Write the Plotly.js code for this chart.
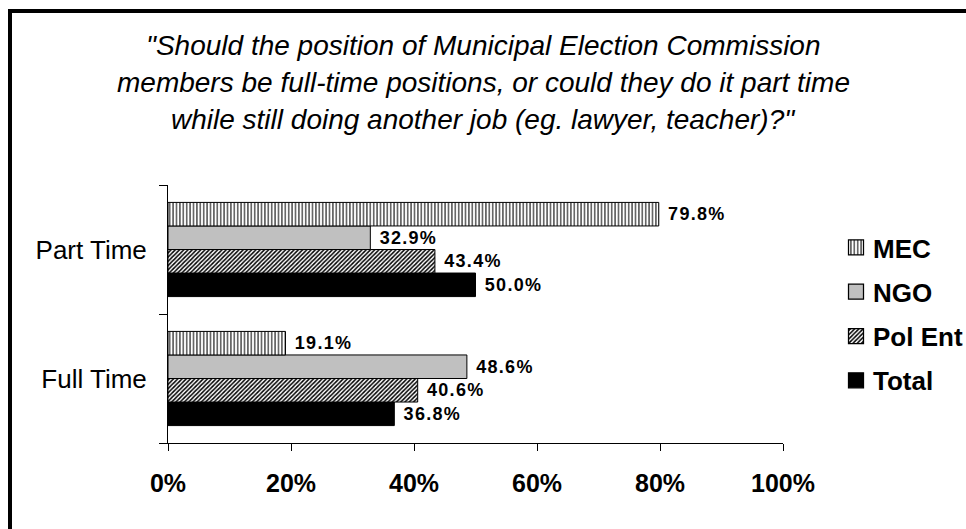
<!DOCTYPE html>
<html>
<head>
<meta charset="utf-8">
<script src="https://cdn.plot.ly/plotly-3.0.1.min.js"></script>
<style>
  html, body { margin: 0; padding: 0; width: 966px; height: 529px; overflow: hidden; background: #fff; }
  #chart { position: absolute; left: 0; top: 0; width: 966px; height: 529px; }
  #frame { position: absolute; left: 8px; top: 9px; width: 1200px; height: 800px;
           border-left: 4px solid #000; border-top: 4px solid #000; pointer-events: none; }
  text.bartext { letter-spacing: 1.3px; }
  .legend .legendpoints path.legendundefined, .legend .legendpoints path { transform: translate(23px, 0px) scale(1.25); }
</style>
</head>
<body>
<div id="chart"></div>
<div id="frame"></div>
<script>
// ---- data ----
const categories = ['Full Time', 'Part Time'];
const seriesNames = ['MEC', 'NGO', 'Pol Ent', 'Total'];
const mec    = [19.1, 79.8];
const ngo    = [48.6, 32.9];
const polEnt = [40.6, 43.4];
const total  = [36.8, 50.0];
const xTickVals = [0, 20, 40, 60, 80, 100];
const xTickText = xTickVals.map(v => v + '%');
const titleLines = [
  '"Should the position of Municipal Election Commission',
  'members be full-time positions, or could they do it part time',
  'while still doing another job (eg. lawyer, teacher)?"'
];

// ---- styling ----
const W = 966, H = 529;
const M = {l: 168, r: 183, t: 185, b: 86, autoexpand: false};
const plotW = W - M.l - M.r, plotH = H - M.t - M.b;
const px2paperX = px => (px - M.l) / plotW;
const px2paperY = py => (H - M.b - py) / plotH;
const FAM = 'Liberation Sans, Arial, sans-serif';

const labelFont = {family: FAM, size: 18, weight: 'bold', color: '#000'};

function barTrace(name, rank, values, marker) {
  return {
    type: 'bar', orientation: 'h', name: name, legendgroup: name, legendrank: rank,
    y: categories, x: values,
    texttemplate: '\u00a0%{x:.1f}%', textposition: 'outside', cliponaxis: false,
    textfont: labelFont,
    marker: Object.assign({line: {color: '#000', width: 1}}, marker),
    hoverinfo: 'skip'
  };
}

// first trace drawn at the bottom of each group -> MEC last
const traces = [
  barTrace(seriesNames[3], 4, total,  {color: '#000000'}),
  barTrace(seriesNames[2], 3, polEnt, {color: '#ffffff', pattern: {shape: '/', fgcolor: '#000', bgcolor: '#fff', size: 3, solidity: 0.5}}),
  barTrace(seriesNames[1], 2, ngo,    {color: '#c0c0c0'}),
  barTrace(seriesNames[0], 1, mec,    {color: '#ffffff', pattern: {shape: '|', fgcolor: '#000', bgcolor: '#fff', size: 3.4, solidity: 0.3}})
];

const titleCentersY = [46, 82.5, 119];
const annotations = titleLines.map((t, i) => ({
  text: t, xref: 'paper', yref: 'paper',
  x: px2paperX(483), y: px2paperY(titleCentersY[i]),
  xanchor: 'center', yanchor: 'middle', showarrow: false,
  font: {family: FAM, size: 28, style: 'italic', color: '#000'}
}));

const layout = {
  width: W, height: H,
  margin: M,
  paper_bgcolor: '#fff', plot_bgcolor: '#fff',
  barmode: 'group', bargap: 0.27, bargroupgap: 0,
  showlegend: true,
  legend: {
    x: px2paperX(833), xanchor: 'left', y: 0.5, yanchor: 'middle',
    traceorder: 'grouped', tracegroupgap: 7.5,
    font: {family: FAM, size: 26, weight: 'bold', color: '#000'},
    bgcolor: 'rgba(0,0,0,0)', borderwidth: 0
  },
  xaxis: {
    range: [0, 100], tickvals: xTickVals, ticktext: xTickText,
    showgrid: false, zeroline: false,
    showline: true, linecolor: '#000', linewidth: 1,
    ticks: 'outside', ticklen: 7, tickcolor: '#000', tickwidth: 1,
    ticklabelstandoff: 11,
    tickfont: {family: FAM, size: 25, weight: 'bold', color: '#000'},
    fixedrange: true
  },
  yaxis: {
    type: 'category', range: [-0.5, 1.5],
    showgrid: false, zeroline: false,
    showline: true, linecolor: '#000', linewidth: 1,
    ticks: 'outside', tickson: 'boundaries', ticklen: 8, tickcolor: '#000', tickwidth: 1,
    ticklabelstandoff: 15,
    tickfont: {family: FAM, size: 26, color: '#000'},
    fixedrange: true
  },
  annotations: annotations
};

Plotly.newPlot('chart', traces, layout, {staticPlot: true, displayModeBar: false});
</script>
</body>
</html>
